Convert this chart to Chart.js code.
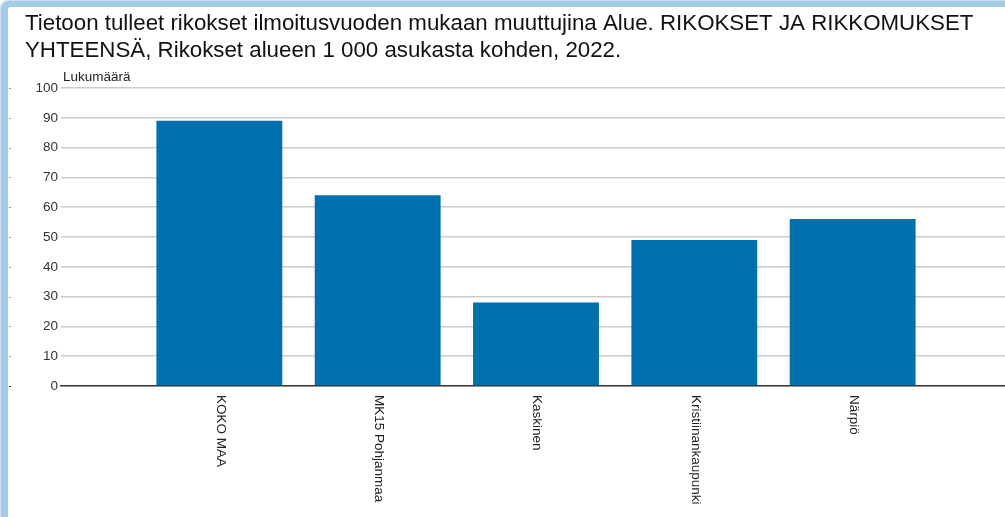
<!DOCTYPE html>
<html lang="fi">
<head>
<meta charset="utf-8">
<title>Rikokset alueen 1 000 asukasta kohden, 2022</title>
<script src="https://cdn.jsdelivr.net/npm/chart.js@4.4.1/dist/chart.umd.min.js"></script>
<style>
  html, body { margin: 0; padding: 0; overflow: hidden; background: #ffffff; }
  body { width: 1005px; height: 517px; position: relative; }
  .frame {
    position: absolute; left: 1px; top: 1px; width: 1100px; height: 620px;
    border-left: 7px solid #a3cbe6; border-top: 6px solid #a3cbe6;
    border-top-left-radius: 9px;
    box-shadow: -1px -1px 3px rgba(120,170,210,0.6), inset 1px 1px 2px rgba(255,255,255,0.5);
    background: #ffffff;
  }
  #chart { position: absolute; left: 0; top: 0; }
</style>
</head>
<body>
<div class="frame"></div>
<canvas id="chart" width="1012" height="517"></canvas>
<script>
// Tietoon tulleet rikokset, rikokset alueen 1 000 asukasta kohden, 2022
const categories = ['KOKO MAA', 'MK15 Pohjanmaa', 'Kaskinen', 'Kristiinankaupunki', 'Närpiö'];
const values = [89, 64, 28, 49, 56];
const yTicks = [0, 10, 20, 30, 40, 50, 60, 70, 80, 90, 100];
const titleLines = [
  'Tietoon tulleet rikokset ilmoitusvuoden mukaan muuttujina Alue. RIKOKSET JA RIKKOMUKSET',
  'YHTEENSÄ, Rikokset alueen 1 000 asukasta kohden, 2022.'
];
const yAxisLabel = 'Lukumäärä';

// Empty slots at both ends so the bars sit on the inner positions of the axis
const labels = [''].concat(categories, ['']);
const data = [null].concat(values, [null]);

const FONT = '"Liberation Sans", Arial, sans-serif';

// Two-line heading, left aligned inside the frame
const heading = {
  id: 'heading',
  afterDraw(chart) {
    const { ctx } = chart;
    ctx.save();
    ctx.font = '22.3px ' + FONT;
    ctx.fillStyle = '#111111';
    ctx.textAlign = 'left';
    ctx.textBaseline = 'alphabetic';
    titleLines.forEach((line, i) => ctx.fillText(line, 25, 30 + i * 26.5));
    ctx.restore();
  }
};

// Category names, rotated a quarter turn clockwise under each bar
const rotatedLabels = {
  id: 'rotatedLabels',
  afterDraw(chart) {
    const { ctx, scales } = chart;
    const x = scales.x;
    ctx.save();
    ctx.font = '13.5px ' + FONT;
    ctx.fillStyle = '#222222';
    ctx.textAlign = 'left';
    ctx.textBaseline = 'middle';
    labels.forEach((lab, i) => {
      if (!lab) return;
      const px = x.getPixelForValue(i);
      ctx.save();
      ctx.translate(px + 1, chart.chartArea.bottom + 9);
      ctx.rotate(Math.PI / 2);
      ctx.fillText(lab, 0, 0);
      ctx.restore();
    });
    ctx.restore();
  }
};

// Axis caption above the value axis and the small outer tick marks
const axisExtras = {
  id: 'axisExtras',
  afterDraw(chart) {
    const { ctx, chartArea, scales } = chart;
    ctx.save();
    ctx.font = '13.5px ' + FONT;
    ctx.fillStyle = '#222222';
    ctx.textAlign = 'left';
    ctx.textBaseline = 'alphabetic';
    ctx.fillText(yAxisLabel, chartArea.left + 2, chartArea.top - 7);
    yTicks.forEach(v => {
      const py = Math.round(scales.y.getPixelForValue(v));
      ctx.fillStyle = v === 0 ? '#333333' : '#9a9a9a';
      ctx.fillRect(9, py, 2, 1);
    });
    ctx.restore();
  }
};

new Chart(document.getElementById('chart'), {
  type: 'bar',
  data: {
    labels: labels,
    datasets: [{
      data: data,
      backgroundColor: '#0070ae',
      borderWidth: 0,
      categoryPercentage: 1.0,
      barPercentage: 0.795
    }]
  },
  options: {
    responsive: false,
    animation: false,
    layout: { padding: { left: 0, right: 1, top: 88, bottom: 0 } },
    plugins: {
      legend: { display: false },
      tooltip: { enabled: false },
      title: { display: false }
    },
    scales: {
      x: {
        offset: false,
        grid: { display: false, drawTicks: false },
        border: { display: true, color: '#3a3a3a', width: 1.5 },
        ticks: { display: false },
        afterFit(scale) { scale.height = 131; }
      },
      y: {
        min: 0,
        max: 100,
        afterBuildTicks(scale) { scale.ticks = yTicks.map(v => ({ value: v })); },
        grid: { color: '#cccccc', lineWidth: 1.5, drawTicks: false },
        border: { display: false },
        ticks: {
          padding: 3,
          color: '#333333',
          font: { family: FONT, size: 13.5 }
        },
        afterFit(scale) { scale.width = 61; }
      }
    }
  },
  plugins: [heading, rotatedLabels, axisExtras]
});
</script>
</body>
</html>
